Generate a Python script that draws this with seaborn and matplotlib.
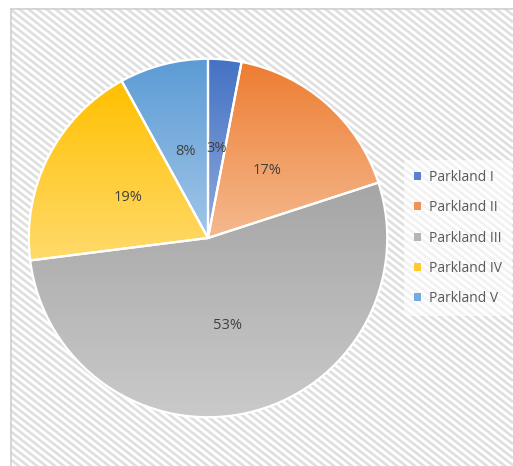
import numpy as np
import matplotlib
matplotlib.use("Agg")
import matplotlib.pyplot as plt
from matplotlib.patches import Rectangle
from matplotlib.collections import LineCollection
from matplotlib.colors import LinearSegmentedColormap
import seaborn as sns

# Share of each Parkland class
categories = ["Parkland I", "Parkland II", "Parkland III", "Parkland IV", "Parkland V"]
shares = [3, 17, 53, 19, 8]
pct_labels = ["3%", "17%", "53%", "19%", "8%"]

# Gradient end colours per wedge (top -> bottom)
top_colors = ["#4472C4", "#ED7D31", "#A5A5A5", "#FFC000", "#5B9BD5"]
bottom_colors = ["#8FAADC", "#F5B98F", "#CACACA", "#FFDA6B", "#A2C6E8"]
legend_colors = ["#5B80CC", "#F0915A", "#B5B5B5", "#FFC933", "#74ABDC"]

sns.set_theme(style="white")
plt.rcParams["font.family"] = ["Open Sans", "DejaVu Sans"]

W, H = 513, 466
fig = plt.figure(figsize=(W / 100, H / 100), dpi=100)
fig.patch.set_facecolor("white")

# Chart area: diagonal pinstripe background, working in pixel units
x0, ytop = 10, 8
bg = fig.add_axes([x0 / W, 0, 1 - x0 / W, 1 - ytop / H])
bg.set_xlim(0, W - x0)
bg.set_ylim(0, H - ytop)
bg.axis("off")
bg.set_zorder(0)
bw, bh = W - x0, H - ytop
period = 9.0
slope = np.tan(np.radians(38))
segs = []
for c in np.arange(0, bh + bw * slope + period * slope, period * slope):
    segs.append([(0, c), (bw, c - bw * slope)])
bg.add_collection(LineCollection(segs, colors="#dfdfdf", linewidths=1.9))
bg.plot([0.5, 0.5], [0, bh - 0.5], color="#d0d0d0", lw=1.2, clip_on=False)
bg.plot([0.5, bw], [bh - 0.5, bh - 0.5], color="#d0d0d0", lw=1.2, clip_on=False)

cx, cy, r = 208, 238, 181
ax = fig.add_axes([(cx - r) / W, (H - cy - r) / H, 2 * r / W, 2 * r / H])
ax.set_facecolor("none")
ax.set_zorder(1)

wedges, texts, autotexts = ax.pie(
    shares, startangle=90, counterclock=False, radius=1.0,
    colors=top_colors, autopct="%1.0f%%", pctdistance=0.5,
    wedgeprops=dict(edgecolor="white", linewidth=1.6),
    textprops=dict(color="#404040", fontsize=10.5),
)
for t, lab in zip(autotexts, pct_labels):
    t.set_text(lab)
    t.set_zorder(5)

# Vertical gradient fill inside each wedge
grad = np.linspace(0, 1, 256).reshape(-1, 1)
for w, c0, c1 in zip(wedges, top_colors, bottom_colors):
    bb = w.get_path().get_extents(w.get_patch_transform())
    cmap = LinearSegmentedColormap.from_list("g", [c0, c1])
    im = ax.imshow(grad, cmap=cmap, aspect="auto",
                   extent=[bb.x0, bb.x1, bb.y0, bb.y1], origin="upper", zorder=1)
    im.set_clip_path(w)
    w.set_facecolor("none")
    w.set_zorder(2)

ax.set_xlim(-1.01, 1.01)
ax.set_ylim(-1.01, 1.01)
ax.set_aspect("equal")
ax.axis("off")

handles = [Rectangle((0, 0), 1, 1, facecolor=c, edgecolor="none") for c in legend_colors]
leg = fig.legend(handles, categories, loc="center left",
                 bbox_to_anchor=(397 / W, (H - 238) / H),
                 frameon=True, fontsize=10, handlelength=0.5, handleheight=0.5,
                 handletextpad=0.6, labelspacing=1.1, borderpad=0.7)
leg.get_frame().set_facecolor("white")
leg.get_frame().set_alpha(0.6)
leg.get_frame().set_edgecolor("none")
for t in leg.get_texts():
    t.set_color("#595959")

fig.savefig("out.png", dpi=100)
